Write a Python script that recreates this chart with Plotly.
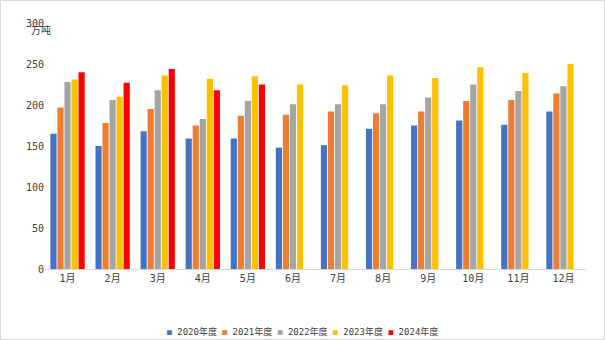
import plotly.graph_objects as go

months = ["1月", "2月", "3月", "4月", "5月", "6月", "7月", "8月", "9月", "10月", "11月", "12月"]
series_names = ["2020年度", "2021年度", "2022年度", "2023年度", "2024年度"]
colors = ["#4472C4", "#ED7D31", "#A5A5A5", "#FFC000", "#FF0000"]

v2020 = [165, 150, 168, 159, 159, 148, 151, 171, 175, 181, 176, 192]
v2021 = [197, 178, 195, 175, 187, 188, 192, 190, 192, 205, 206, 214]
v2022 = [228, 206, 218, 183, 205, 201, 201, 201, 209, 225, 217, 223]
v2023 = [231, 210, 236, 232, 235, 225, 224, 236, 233, 246, 239, 250]
v2024 = [240, 227, 244, 218, 225, None, None, None, None, None, None, None]

y_ticks = [0, 50, 100, 150, 200, 250, 300]
unit_label = "万吨"

values = [v2020, v2021, v2022, v2023, v2024]

FONT = "DejaVu Sans Mono, Noto Sans CJK SC, sans-serif"

fig = go.Figure()
for name, col, vals in zip(series_names, colors, values):
    fig.add_trace(go.Bar(x=months, y=vals, name=name, marker_color=col,
                         marker_line_width=0, showlegend=False))

L, R, T, B = 45, 19, 23, 71
W, H = 605, 340
pw, ph = W - L - R, H - T - B

# compact legend row (marker squares + names), built from the series lists
legend_text = "&nbsp;".join(
    f"<span style='color:{c};font-size:8px'>■</span>&nbsp;{n}"
    for n, c in zip(series_names, colors)
)

fig.update_layout(
    width=W, height=H,
    margin=dict(l=L, r=R, t=T, b=B, pad=0, autoexpand=False),
    paper_bgcolor="white", plot_bgcolor="white",
    barmode="group", bargap=0.22, bargroupgap=0.12,
    font=dict(family=FONT, size=10, color="#595959"),
    showlegend=False,
    xaxis=dict(showgrid=False, showline=True, linecolor="#D9D9D9", linewidth=1,
               ticks="", tickfont=dict(size=10, color="#404040")),
    yaxis=dict(range=[0, 300], tickvals=y_ticks, showgrid=False, zeroline=False,
               showline=False, ticks="", tickfont=dict(size=10, color="#404040")),
    annotations=[
        dict(text=unit_label, x=(41 - L) / pw, y=((H - B) - 30) / ph,
             xref="paper", yref="paper", xanchor="center", yanchor="middle",
             showarrow=False, font=dict(size=10, color="#404040")),
        dict(text=legend_text, x=(302 - L) / pw, y=-(331 - (H - B)) / ph,
             xref="paper", yref="paper", xanchor="center", yanchor="middle",
             showarrow=False, font=dict(size=9, color="#404040")),
    ],
)

# outer border of the chart area
fig.add_shape(type="rect", xref="paper", yref="paper",
              x0=(0.5 - L) / pw, x1=(W - 0.5 - L) / pw,
              y0=-(B - 0.5) / ph, y1=1 + (T - 0.5) / ph,
              line=dict(color="#D9D9D9", width=1), fillcolor="rgba(0,0,0,0)", layer="below")

fig.write_html("out.html")
